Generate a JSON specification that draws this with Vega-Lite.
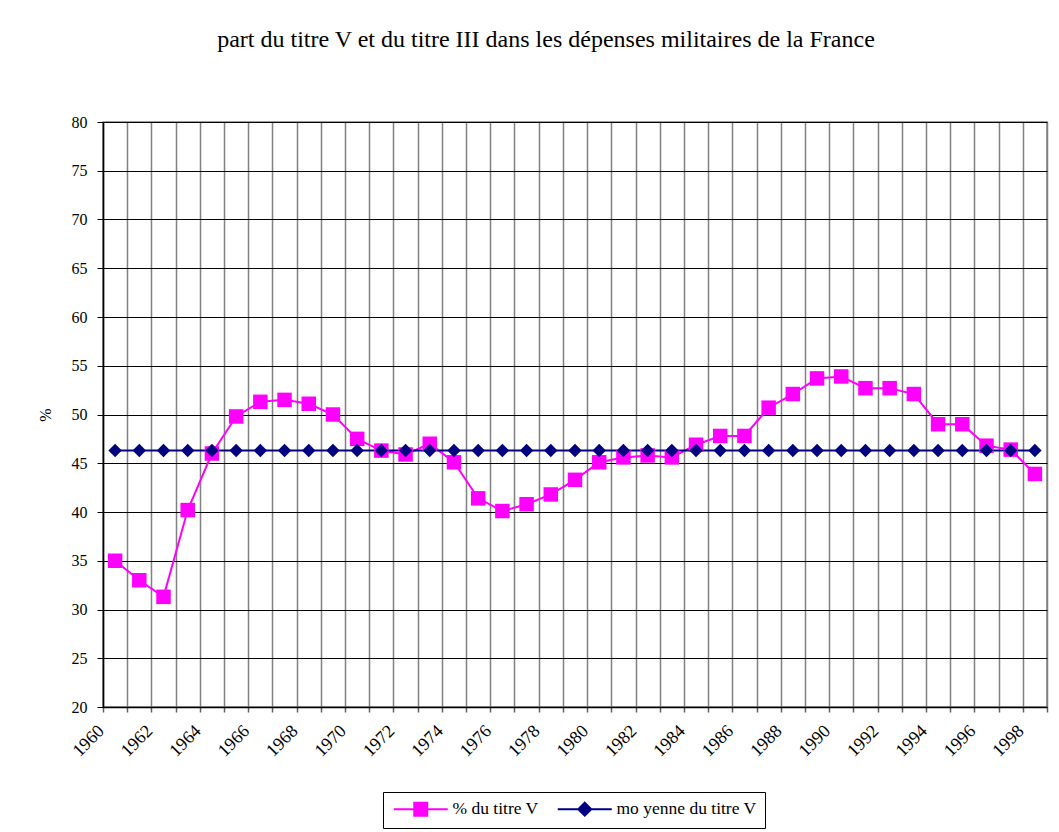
{
  "$schema": "https://vega.github.io/schema/vega-lite/v6.json",
  "width": 944,
  "height": 585,
  "autosize": {"type": "none"},
  "padding": {"left": 103, "top": 122, "right": 12, "bottom": 125},
  "background": "white",
  "config": {
    "font": "Liberation Serif",
    "view": {"stroke": "#808080", "strokeWidth": 1.5}
  },
  "title": {
    "text": "part du titre V et du titre III dans les dépenses militaires de la France",
    "font": "Liberation Serif",
    "fontSize": 24,
    "fontWeight": "normal",
    "color": "black",
    "anchor": "middle",
    "frame": "group",
    "dx": -29,
    "offset": 62
  },
  "data": {
    "values": [
      {"year": 1960, "series": "% du titre V", "value": 35.0},
      {"year": 1961, "series": "% du titre V", "value": 33.0},
      {"year": 1962, "series": "% du titre V", "value": 31.3},
      {"year": 1963, "series": "% du titre V", "value": 40.2},
      {"year": 1964, "series": "% du titre V", "value": 46.0},
      {"year": 1965, "series": "% du titre V", "value": 49.8},
      {"year": 1966, "series": "% du titre V", "value": 51.3},
      {"year": 1967, "series": "% du titre V", "value": 51.5},
      {"year": 1968, "series": "% du titre V", "value": 51.1},
      {"year": 1969, "series": "% du titre V", "value": 50.0},
      {"year": 1970, "series": "% du titre V", "value": 47.5},
      {"year": 1971, "series": "% du titre V", "value": 46.3},
      {"year": 1972, "series": "% du titre V", "value": 45.9},
      {"year": 1973, "series": "% du titre V", "value": 47.0},
      {"year": 1974, "series": "% du titre V", "value": 45.1},
      {"year": 1975, "series": "% du titre V", "value": 41.4},
      {"year": 1976, "series": "% du titre V", "value": 40.1},
      {"year": 1977, "series": "% du titre V", "value": 40.8},
      {"year": 1978, "series": "% du titre V", "value": 41.8},
      {"year": 1979, "series": "% du titre V", "value": 43.3},
      {"year": 1980, "series": "% du titre V", "value": 45.1},
      {"year": 1981, "series": "% du titre V", "value": 45.6},
      {"year": 1982, "series": "% du titre V", "value": 45.8},
      {"year": 1983, "series": "% du titre V", "value": 45.6},
      {"year": 1984, "series": "% du titre V", "value": 46.9},
      {"year": 1985, "series": "% du titre V", "value": 47.8},
      {"year": 1986, "series": "% du titre V", "value": 47.8},
      {"year": 1987, "series": "% du titre V", "value": 50.7},
      {"year": 1988, "series": "% du titre V", "value": 52.1},
      {"year": 1989, "series": "% du titre V", "value": 53.7},
      {"year": 1990, "series": "% du titre V", "value": 53.9},
      {"year": 1991, "series": "% du titre V", "value": 52.7},
      {"year": 1992, "series": "% du titre V", "value": 52.7},
      {"year": 1993, "series": "% du titre V", "value": 52.1},
      {"year": 1994, "series": "% du titre V", "value": 49.0},
      {"year": 1995, "series": "% du titre V", "value": 49.0},
      {"year": 1996, "series": "% du titre V", "value": 46.8},
      {"year": 1997, "series": "% du titre V", "value": 46.4},
      {"year": 1998, "series": "% du titre V", "value": 43.9},
      {"year": 1960, "series": "mo yenne du titre V", "value": 46.3},
      {"year": 1961, "series": "mo yenne du titre V", "value": 46.3},
      {"year": 1962, "series": "mo yenne du titre V", "value": 46.3},
      {"year": 1963, "series": "mo yenne du titre V", "value": 46.3},
      {"year": 1964, "series": "mo yenne du titre V", "value": 46.3},
      {"year": 1965, "series": "mo yenne du titre V", "value": 46.3},
      {"year": 1966, "series": "mo yenne du titre V", "value": 46.3},
      {"year": 1967, "series": "mo yenne du titre V", "value": 46.3},
      {"year": 1968, "series": "mo yenne du titre V", "value": 46.3},
      {"year": 1969, "series": "mo yenne du titre V", "value": 46.3},
      {"year": 1970, "series": "mo yenne du titre V", "value": 46.3},
      {"year": 1971, "series": "mo yenne du titre V", "value": 46.3},
      {"year": 1972, "series": "mo yenne du titre V", "value": 46.3},
      {"year": 1973, "series": "mo yenne du titre V", "value": 46.3},
      {"year": 1974, "series": "mo yenne du titre V", "value": 46.3},
      {"year": 1975, "series": "mo yenne du titre V", "value": 46.3},
      {"year": 1976, "series": "mo yenne du titre V", "value": 46.3},
      {"year": 1977, "series": "mo yenne du titre V", "value": 46.3},
      {"year": 1978, "series": "mo yenne du titre V", "value": 46.3},
      {"year": 1979, "series": "mo yenne du titre V", "value": 46.3},
      {"year": 1980, "series": "mo yenne du titre V", "value": 46.3},
      {"year": 1981, "series": "mo yenne du titre V", "value": 46.3},
      {"year": 1982, "series": "mo yenne du titre V", "value": 46.3},
      {"year": 1983, "series": "mo yenne du titre V", "value": 46.3},
      {"year": 1984, "series": "mo yenne du titre V", "value": 46.3},
      {"year": 1985, "series": "mo yenne du titre V", "value": 46.3},
      {"year": 1986, "series": "mo yenne du titre V", "value": 46.3},
      {"year": 1987, "series": "mo yenne du titre V", "value": 46.3},
      {"year": 1988, "series": "mo yenne du titre V", "value": 46.3},
      {"year": 1989, "series": "mo yenne du titre V", "value": 46.3},
      {"year": 1990, "series": "mo yenne du titre V", "value": 46.3},
      {"year": 1991, "series": "mo yenne du titre V", "value": 46.3},
      {"year": 1992, "series": "mo yenne du titre V", "value": 46.3},
      {"year": 1993, "series": "mo yenne du titre V", "value": 46.3},
      {"year": 1994, "series": "mo yenne du titre V", "value": 46.3},
      {"year": 1995, "series": "mo yenne du titre V", "value": 46.3},
      {"year": 1996, "series": "mo yenne du titre V", "value": 46.3},
      {"year": 1997, "series": "mo yenne du titre V", "value": 46.3},
      {"year": 1998, "series": "mo yenne du titre V", "value": 46.3}
    ]
  },
  "encoding": {
    "x": {
      "field": "year",
      "type": "ordinal",
      "scale": {"paddingInner": 0, "paddingOuter": 0},
      "axis": {
        "title": null,
        "tickBand": "extent",
        "grid": true,
        "gridColor": "#808080",
        "gridWidth": 1.5,
        "domainColor": "black",
        "domainWidth": 1.5,
        "tickColor": "#606060",
        "tickWidth": 1.5,
        "tickSize": 5,
        "labelAngle": -45,
        "labelAlign": "right",
        "labelBaseline": "middle",
        "labelPadding": 16,
        "labelOffset": -14,
        "labelFont": "Liberation Serif",
        "labelFontSize": 18,
        "labelColor": "black",
        "labelExpr": "datum.value % 2 == 0 ? datum.value : ''"
      }
    },
    "y": {
      "field": "value",
      "type": "quantitative",
      "scale": {"domain": [20, 80], "nice": false, "zero": false},
      "axis": {
        "title": "%",
        "titleFont": "Liberation Serif",
        "titleFontSize": 16,
        "titleFontWeight": "normal",
        "titleColor": "black",
        "titlePadding": 18,
        "values": [20, 25, 30, 35, 40, 45, 50, 55, 60, 65, 70, 75, 80],
        "grid": true,
        "gridColor": "black",
        "gridWidth": 1,
        "domainColor": "black",
        "domainWidth": 1.5,
        "tickColor": "black",
        "tickSize": 6,
        "labelFont": "Liberation Serif",
        "labelFontSize": 16,
        "labelColor": "black",
        "labelPadding": 10
      }
    },
    "color": {
      "field": "series",
      "type": "nominal",
      "scale": {"domain": ["% du titre V", "mo yenne du titre V"], "range": ["#FF00FF", "#000080"]},
      "legend": {
        "title": null,
        "orient": "none",
        "legendX": 280,
        "legendY": 670,
        "direction": "horizontal",
        "strokeColor": "black",
        "fillColor": "white",
        "padding": 8,
        "labelFont": "Liberation Serif",
        "labelFontSize": 17.5,
        "labelColor": "black",
        "labelOffset": 44,
        "columnPadding": 14,
        "symbolSize": 100,
        "symbolStrokeWidth": 2,
        "symbolType": "M-1.2,0H9.6M2.9,-1.3H5.5V1.3H2.9Z",
        "encode": {
          "symbols": {
            "update": {
              "shape": {"signal": "datum.value == '% du titre V' ? 'M-1.2,0H9.6M2.9,-1.3H5.5V1.3H2.9Z' : 'M-1.2,0H9.6M4.2,-1.3L5.5,0L4.2,1.3L2.9,0Z'"},
              "fill": {"signal": "datum.value == '% du titre V' ? '#FF00FF' : '#000080'"},
              "stroke": {"signal": "datum.value == '% du titre V' ? '#FF00FF' : '#000080'"},
              "strokeWidth": {"value": 2},
              "opacity": {"value": 1}
            }
          }
        }
      }
    }
  },
  "layer": [
    {
      "mark": {"type": "line", "strokeWidth": 2}
    },
    {
      "transform": [{"filter": "datum.series == '% du titre V'"}],
      "mark": {"type": "point", "filled": true, "opacity": 1, "shape": "square", "size": 210}
    },
    {
      "transform": [{"filter": "datum.series == 'mo yenne du titre V'"}],
      "mark": {"type": "point", "filled": true, "opacity": 1, "shape": "diamond", "size": 180}
    }
  ]
}
